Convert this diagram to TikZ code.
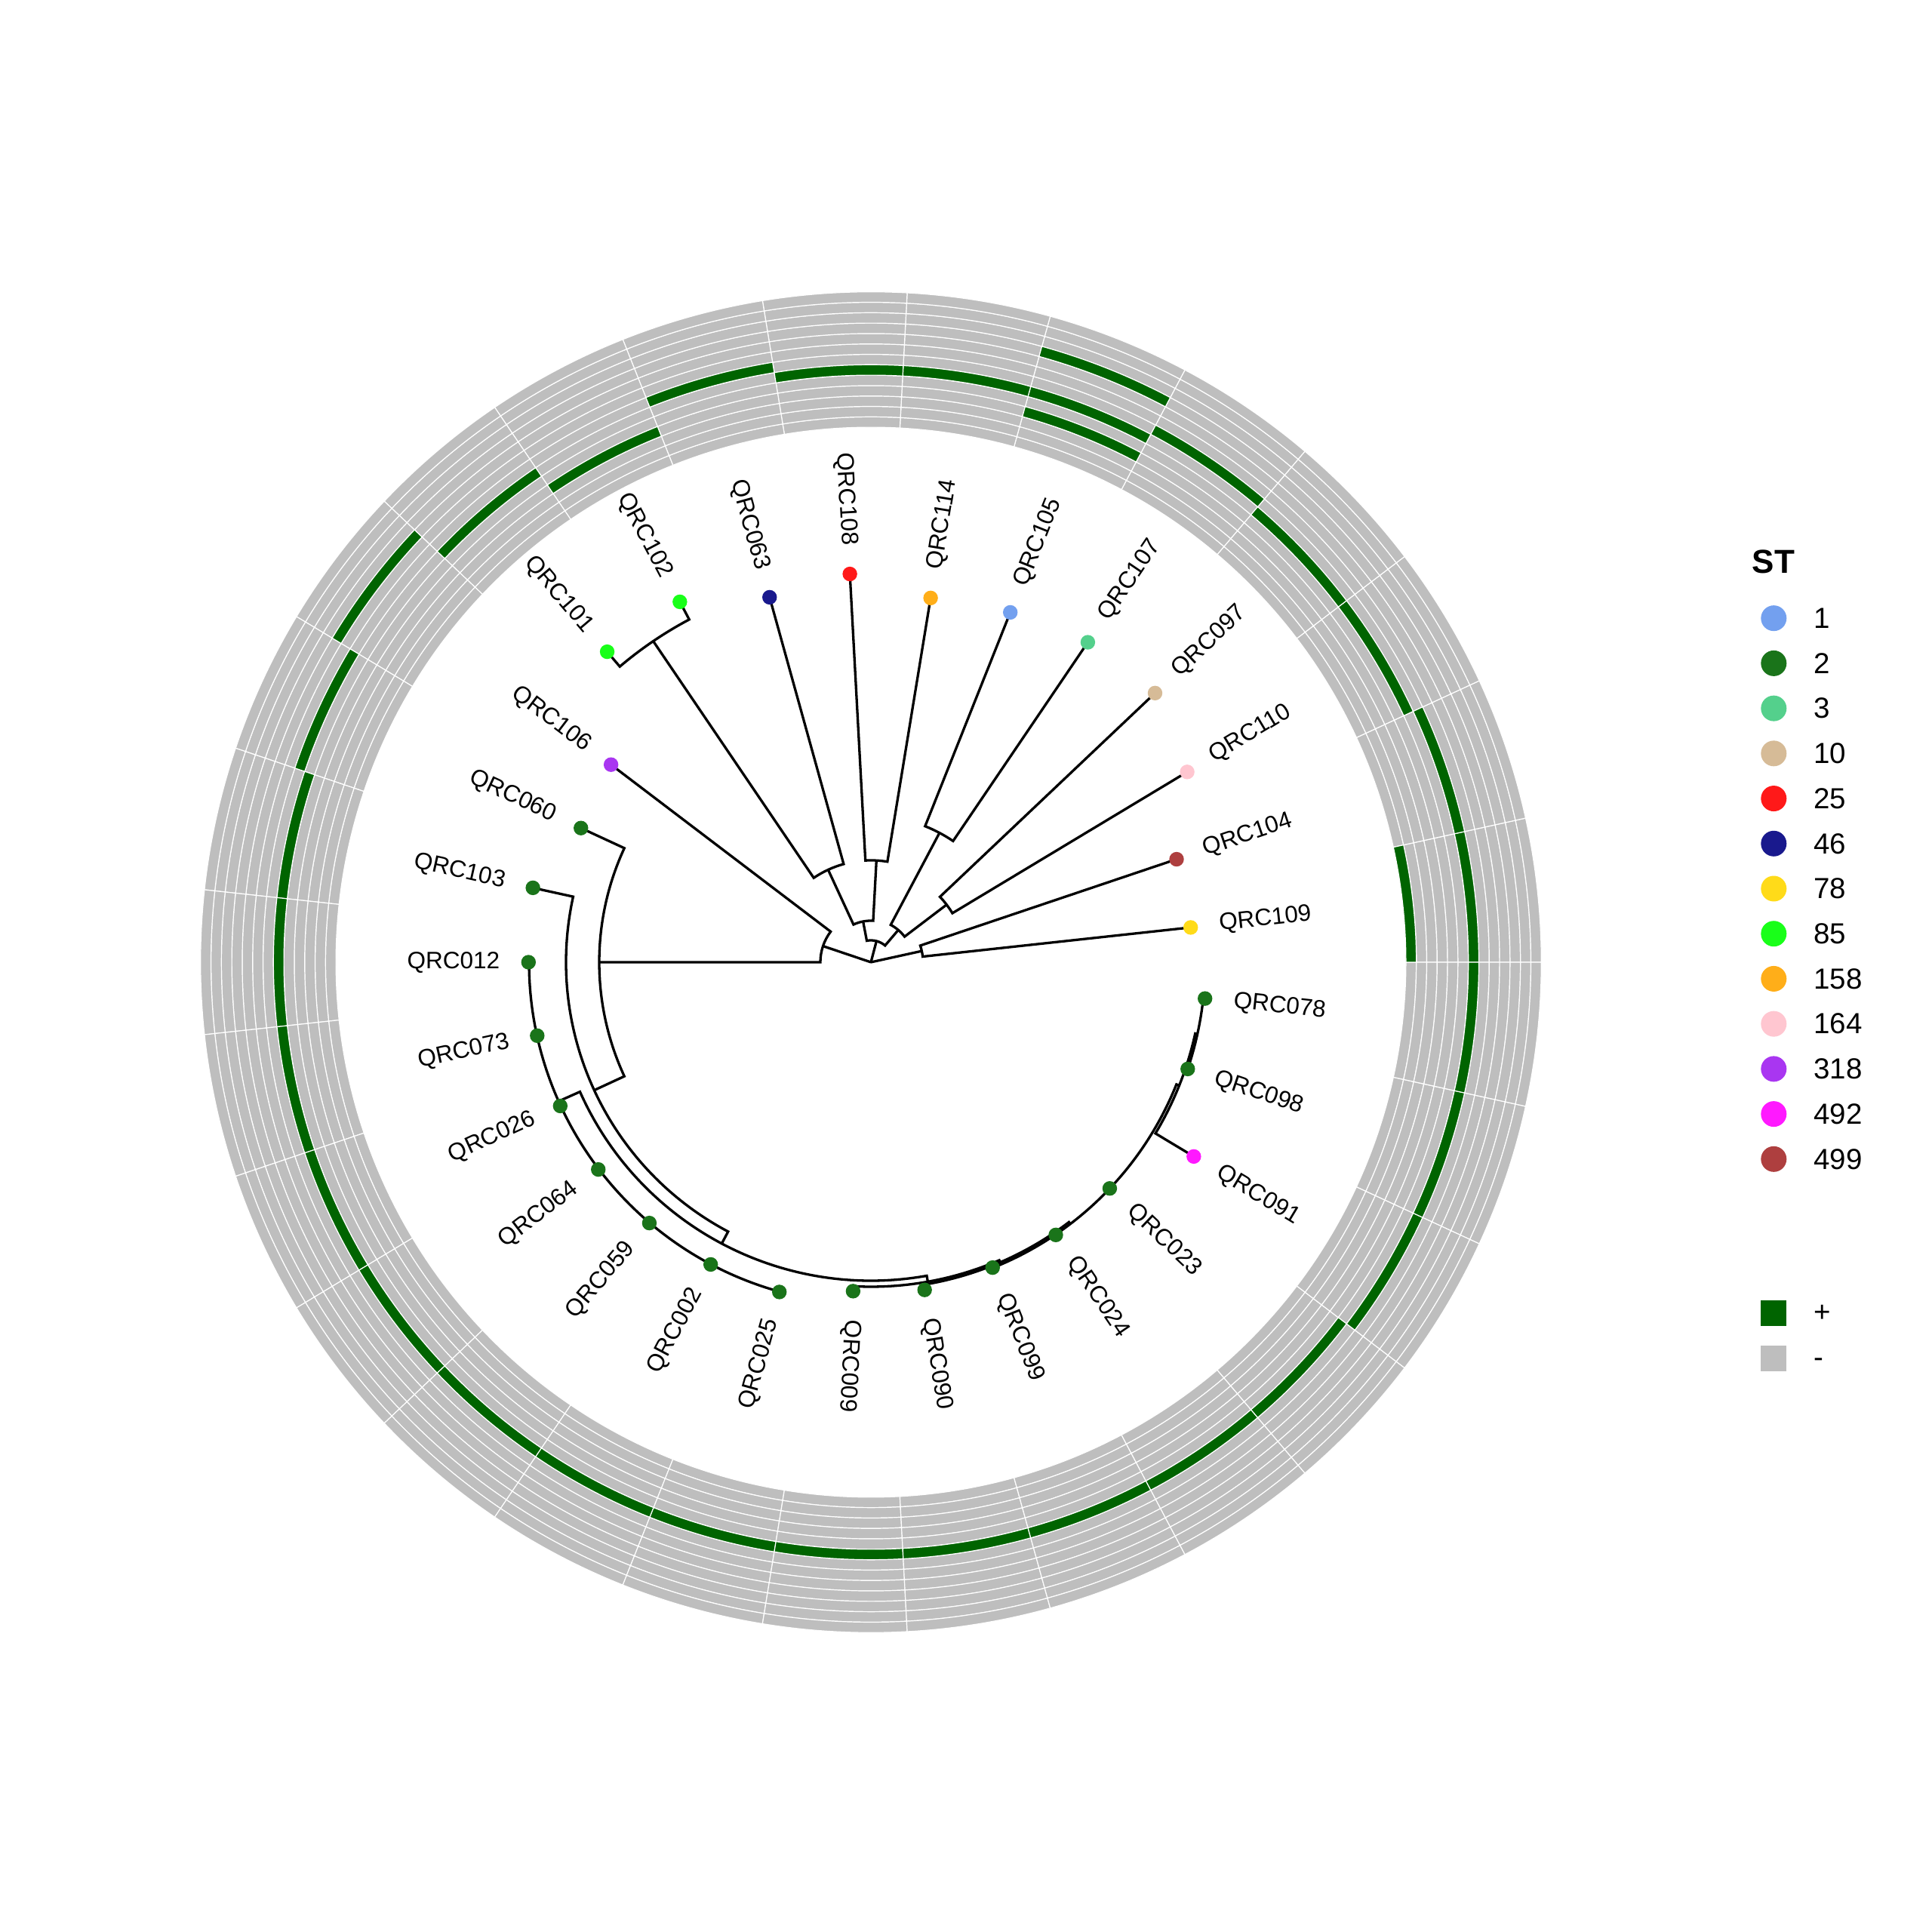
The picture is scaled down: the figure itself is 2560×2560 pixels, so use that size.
\documentclass[tikz,border=0pt]{standalone}
\usepackage{fontspec}
\setmainfont{Liberation Sans}
\definecolor{hmgray}{RGB}{190,190,190}
\definecolor{hmgreen}{RGB}{0,100,0}
\definecolor{st1}{RGB}{115,160,239}
\definecolor{st2}{RGB}{26,116,26}
\definecolor{st3}{RGB}{84,208,140}
\definecolor{st10}{RGB}{214,187,151}
\definecolor{st25}{RGB}{255,25,25}
\definecolor{st46}{RGB}{25,25,141}
\definecolor{st78}{RGB}{255,219,25}
\definecolor{st85}{RGB}{25,255,25}
\definecolor{st158}{RGB}{255,174,25}
\definecolor{st164}{RGB}{255,198,208}
\definecolor{st318}{RGB}{169,54,241}
\definecolor{st492}{RGB}{255,25,255}
\definecolor{st499}{RGB}{174,63,63}
\newcommand\brk[5]{\draw[branch] (#2:#3) -- (#2:#1) arc[start angle=#2, end angle=#4, radius=#1pt] -- (#4:#5);}
\begin{document}
\begin{tikzpicture}[x=1pt,y=1pt,
  branch/.style={line width=3.3pt, black, line join=miter},
  cell/.style={draw=white, line width=1.2pt},
  tipdot/.style={circle, inner sep=0pt, minimum size=19.4pt, draw=none},
  tiplab/.style={inner sep=0pt, font=\fontsize{31.5}{36}\selectfont},
  leglab/.style={inner sep=0pt, anchor=west, font=\fontsize{38.5}{44}\selectfont},
  legdot/.style={circle, inner sep=0pt, minimum size=34pt, draw=none},
  legsq/.style={rectangle, inner sep=0pt, minimum size=34pt, draw=none}
]
\useasboundingbox (0,0) rectangle (2560,2560);
\fill[white] (0,0) rectangle (2560,2560);
\begin{scope}[shift={(1154,1285)}]
% ---------------- heatmap ring ----------------
\foreach \i in {0,...,28}{
  \foreach \j in {1,...,13}{
    \pgfmathsetmacro\aa{\i*360/29}
    \pgfmathsetmacro\ab{(\i+1)*360/29}
    \pgfmathsetmacro\ra{708.9+(\j-1)*13.8}
    \pgfmathsetmacro\rb{\ra+13.8}
    \filldraw[cell, fill=hmgray] (\aa:\ra) arc[start angle=\aa, end angle=\ab, radius=\ra pt] -- (\ab:\rb) arc[start angle=\ab, end angle=\aa, radius=\rb pt] -- cycle;
  }
}
\foreach \i/\j in {0/1,0/7,1/7,2/6,3/6,4/7,5/4,5/6,5/10,6/6,7/6,8/7,9/4,10/6,11/9,12/7,13/6,14/6,15/6,16/6,17/6,18/6,19/6,20/6,21/6,22/6,23/6,24/6,25/6,26/7,27/7,28/7}{
    \pgfmathsetmacro\aa{\i*360/29}
    \pgfmathsetmacro\ab{(\i+1)*360/29}
    \pgfmathsetmacro\ra{708.9+(\j-1)*13.8}
    \pgfmathsetmacro\rb{\ra+13.8}
    \filldraw[cell, fill=hmgreen] (\aa:\ra) arc[start angle=\aa, end angle=\ab, radius=\ra pt] -- (\ab:\rb) arc[start angle=\ab, end angle=\aa, radius=\rb pt] -- cycle;
}
% ---------------- tree ----------------
\coordinate (root) at (0,0);
\draw[branch] (root) -- (75.259:29);
\draw[branch] (root) -- (12.414:69);
\draw[branch] (root) -- (161.38:67);
\brk{69}{6.207}{426.2}{18.621}{427.4}
\brk{126}{31.034}{489.1}{43.448}{518.6}
\brk{194}{55.862}{512.2}{68.276}{499.0}
\brk{56}{37.241}{126}{62.069}{194}
\brk{135}{80.690}{489.1}{93.103}{515.2}
\brk{514}{117.931}{540.5}{130.345}{539.8}
\brk{135}{105.517}{501.9}{124.138}{514}
\brk{55}{86.897}{135}{114.828}{135}
\brk{29}{49.655}{56}{100.862}{55}
\brk{67}{142.759}{432.6}{180}{360}
\brk{360}{155.172}{423.4}{204.828}{404}
\brk{404}{167.586}{458.6}{242.07}{422}
\brk{422}{204.0}{453}{280.1}{430}
\draw[branch] (180:453) arc[start angle=180, end angle=254.483, radius=453pt];
\brk{430}{266.897}{436.5}{293.3}{433}
\brk{433}{279.310}{440}{307.3}{436}
\brk{436}{291.724}{436}{338.2}{440}
\brk{440}{328.966}{499.3}{347.6}{443}
\brk{443}{341.379}{443}{353.793}{445.3}
% ---------------- tips ----------------
\foreach \i/\nm/\rt/\col in {0/QRC109/426.2/st78, 1/QRC104/427.4/st499, 2/QRC110/489.1/st164, 3/QRC097/518.6/st10, 4/QRC107/512.2/st3, 5/QRC105/499.0/st1, 6/QRC114/489.1/st158, 7/QRC108/515.2/st25, 8/QRC063/501.9/st46, 9/QRC102/540.5/st85, 10/QRC101/539.8/st85, 11/QRC106/432.6/st318, 12/QRC060/423.4/st2, 13/QRC103/458.6/st2, 14/QRC012/453.7/st2, 15/QRC073/452.8/st2, 16/QRC026/453.6/st2, 17/QRC064/453.8/st2, 18/QRC059/453.5/st2, 19/QRC002/453.3/st2, 20/QRC025/453.5/st2, 21/QRC009/436.5/st2, 22/QRC090/440.0/st2, 23/QRC099/435.6/st2, 24/QRC024/436.6/st2, 25/QRC023/435.9/st2, 26/QRC091/499.3/st492, 27/QRC098/443.0/st2, 28/QRC078/445.3/st2}{
  \pgfmathsetmacro\ang{(\i+0.5)*360/29}
  \pgfmathsetmacro\rl{\rt+38}
  \pgfmathtruncatemacro\flip{(\ang>90 && \ang<260) ? 1 : 0}
  \pgfmathsetmacro\rot{\ang-180}
  \node[tipdot, fill=\col] (\nm) at (\ang:\rt) {};
  \ifnum\flip=1
    \node[tiplab, anchor=east, rotate=\rot] (lab\nm) at (\ang:\rl) {\nm};
  \else
    \node[tiplab, anchor=west, rotate=\ang] (lab\nm) at (\ang:\rl) {\nm};
  \fi
}
\end{scope}
% ---------------- legend ----------------
\node[inner sep=0pt, anchor=west, font=\fontsize{44}{50}\selectfont\bfseries] (sttitle) at (2321.7,1816) {ST};
\foreach \k/\lab/\col in {0/1/st1, 1/2/st2, 2/3/st3, 3/10/st10, 4/25/st25, 5/46/st46, 6/78/st78, 7/85/st85, 8/158/st158, 9/164/st164, 10/318/st318, 11/492/st492, 12/499/st499}{
  \pgfmathsetmacro\yy{1740.8-\k*59.72}
  \node[legdot, fill=\col] (ld\k) at (2350.3,\yy) {};
  \node[leglab] (ll\k) at (2403,\yy) {\lab};
}
\node[legsq, fill=hmgreen] (sqplus) at (2350.3,819.5) {};
\node[leglab] (lplus) at (2403,819.5) {+};
\node[legsq, fill=hmgray] (sqminus) at (2350.3,760) {};
\node[leglab] (lminus) at (2403,754) {-};
\end{tikzpicture}
\end{document}
